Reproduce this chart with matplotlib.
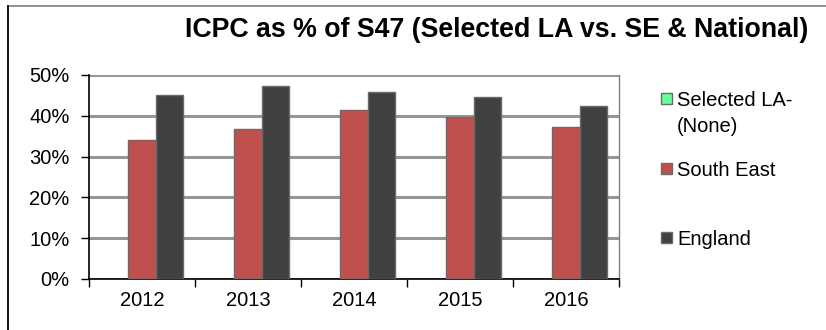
import numpy as np
import matplotlib
matplotlib.use("Agg")
from matplotlib import pyplot as plt
from matplotlib.patches import Rectangle
from matplotlib.ticker import FuncFormatter, FixedLocator

plt.rcParams['font.family'] = ['Liberation Sans', 'DejaVu Sans']

years = ['2012', '2013', '2014', '2015', '2016']
selected_la = [np.nan] * 5   # no LA selected
south_east = [0.340, 0.368, 0.413, 0.397, 0.372]
england = [0.452, 0.473, 0.458, 0.446, 0.424]

series = [("Selected LA-\n(None)", selected_la, '#66FF99'),
          ("South East", south_east, '#C0504D'),
          ("England", england, '#404040')]

W, H = 826, 330
fig = plt.figure(figsize=(W / 100, H / 100), dpi=100)
ax = fig.add_axes([89 / W, 1 - 279 / H, 530 / W, 204 / H])

# chart border (left/top only, the rest runs off the image)
fig.patches.append(Rectangle((8 / W, -0.1), 1.2, 1 - 6 / H + 0.1,
                             transform=fig.transFigure, fill=False,
                             edgecolor='#7f7f7f', linewidth=1.2))
fig.add_artist(plt.Line2D([8 / W, 8 / W], [0, 1 - 6 / H],
                          transform=fig.transFigure, color='black', lw=1.2))

x = np.arange(len(years))
w = 0.255
for i, (name, vals, col) in enumerate(series):
    ax.bar(x + (i - 1) * w, vals, w, color=col, edgecolor='#6a6a6a',
           linewidth=1.0, zorder=3)

ax.set_xlim(-0.5, len(years) - 0.5)
ax.set_ylim(0, 0.5)
ax.set_yticks(np.arange(0, 0.51, 0.1))
ax.yaxis.set_major_formatter(FuncFormatter(lambda v, p: f"{v * 100:.0f}%"))
ax.yaxis.grid(True, color='#969696', linewidth=2.2, zorder=1)

ax.set_xticks(x)
ax.set_xticklabels(years)
ax.xaxis.set_minor_locator(FixedLocator(np.arange(-0.5, len(years), 1)))
ax.tick_params(axis='x', which='major', length=0, pad=9, labelsize=14.5)
ax.tick_params(axis='x', which='minor', length=6, direction='out', width=1)
ax.tick_params(axis='y', length=6, width=1, labelsize=14.5, pad=8)

for s in ['left', 'bottom']:
    ax.spines[s].set_color('black')
    ax.spines[s].set_linewidth(1.2)
ax.spines['top'].set_visible(False)
ax.spines['right'].set_color('#7f7f7f')
ax.spines['right'].set_linewidth(1)

fig.text(808 / W, 1 - 30 / H, "ICPC as % of S47 (Selected LA vs. SE & National)",
         ha='right', va='center', fontsize=19.3, fontweight='bold')

# legend entries, marker lined up with the first text line
legend_y = [91, 161, 230]
for (name, _, col), ly in zip(series, legend_y):
    fig.patches.append(Rectangle((661 / W, 1 - (ly + 13) / H), 11 / W, 11 / H,
                                 transform=fig.transFigure, facecolor=col,
                                 edgecolor='#6a6a6a', linewidth=1))
    fig.text(677 / W, 1 - ly / H, name, ha='left', va='top', fontsize=14.5,
             linespacing=1.45)

fig.savefig("out.png", dpi=100)
